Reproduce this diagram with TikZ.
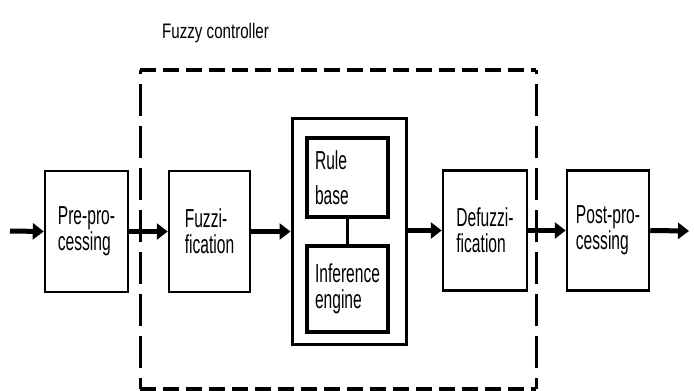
\documentclass[tikz,border=0pt]{standalone}
\usepackage{fontspec}
\newfontfamily\boxfont{Liberation Sans}[FakeStretch=0.6]
\newfontfamily\labfont{Liberation Sans}[FakeStretch=0.72]
\usetikzlibrary{arrows.meta}
\begin{document}
\begin{tikzpicture}[x=1pt,y=-1pt,
  blk/.style={draw, line width=2.5pt, inner sep=0pt, align=left,
    font=\boxfont\fontsize{26}{26}\selectfont},
  kb/.style={blk, line width=4pt, text width=65pt},
  flow/.style={line width=5pt, -{Triangle[length=11pt,width=16pt]}},
  dashh/.style={line width=4pt, dash pattern=on 16pt off 7pt},
  dashv/.style={line width=3pt, dash pattern=on 32pt off 10pt, dash phase=-14pt},
]
\useasboundingbox (0,0) rectangle (694,391);
% fuzzy controller frame
\coordinate (ftl) at (140,70);
\coordinate (ftr) at (536,70);
\coordinate (fbl) at (140,389);
\coordinate (fbr) at (536,389);
\draw[dashh] (ftl) -- (ftr);
\draw[dashh] (fbl) -- (fbr);
\draw[dashv] (ftl) -- (fbl);
\draw[dashv] (ftr) -- (fbr);
\node[anchor=base west, inner sep=0pt, font=\labfont\fontsize{21}{21}\selectfont] (lab) at (162,38) {Fuzzy controller};
% blocks
\node[blk, minimum width=83pt, minimum height=121pt] (pre) at (86.5,231.5) {Pre-pro-\\cessing};
\node[blk, minimum width=81pt, minimum height=121pt] (fuz) at (209.5,231.5) {Fuzzi-\\fication};
\node[draw, line width=3pt, minimum width=114pt, minimum height=226pt] (eng) at (349,231) {};
\node[kb, minimum width=81pt, minimum height=79pt] (rule) at (347.5,177.5) {Rule\\[9pt]base};
\node[kb, minimum width=81pt, minimum height=86pt] (inf) at (347.5,289) {Inference\\engine};
\node[blk, minimum width=84pt, minimum height=120pt] (def) at (485,230.5) {Defuzzi-\\fication};
\node[blk, minimum width=82pt, minimum height=120pt] (post) at (608,230.5) {Post-pro-\\cessing};
\coordinate (in) at (10,231);
\coordinate (out) at (689,231);
% connectors
\draw[line width=3pt] (rule.south) -- (inf.north);
\draw[flow] (in) -- (pre.west);
\draw[flow] (pre.east) -- (fuz.west);
\draw[flow] (fuz.east) -- (eng.west|-fuz.east);
\draw[flow] (eng.east|-def.west) -- (def.west);
\draw[flow] (def.east) -- (post.west);
\draw[flow] (post.east) -- (out);
\end{tikzpicture}
\end{document}
